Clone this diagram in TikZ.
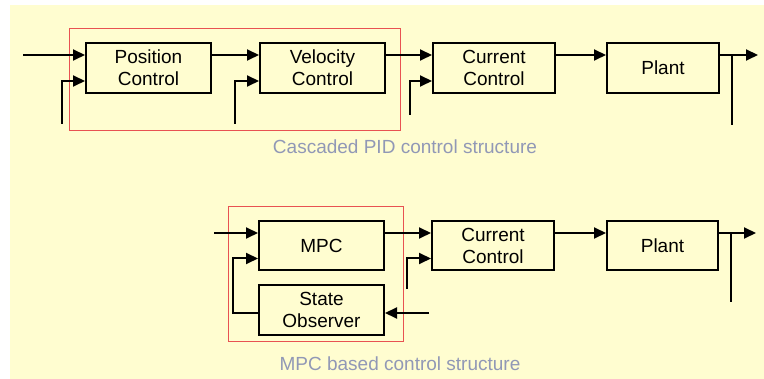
\documentclass[tikz,border=0pt]{standalone}
\usepackage{fontspec}
\setmainfont{Liberation Sans}
\usepackage{xcolor}
\usetikzlibrary{positioning, arrows.meta}
\definecolor{bgyellow}{RGB}{255,253,208}
\definecolor{frame}{RGB}{232,82,82}
\definecolor{caption}{RGB}{145,152,182}

\begin{document}
\begin{tikzpicture}[
    x=1pt, y=-1pt,
    box/.style={
        draw,
        line width=2pt,
        minimum width=125pt,
        minimum height=50pt,
        inner sep=0pt,
        align=center,
        font=\fontsize{19}{22}\selectfont
    },
    arrow/.style={
        -{Triangle[length=12pt, width=11pt]},
        line width=2pt
    },
    wire/.style={
        line width=2pt
    },
    redbox/.style={
        draw=frame,
        line width=1pt
    },
    note/.style={
        text=caption,
        font=\fontsize{19}{22}\selectfont
    }
]

% Background
\useasboundingbox (0,0) rectangle (764,379);
\fill [bgyellow] (10,5) rectangle (764,379);

% Top Row
\node (pos) [box] at (148.5,68) {Position\\Control};
\node (vel) [box, right=47pt of pos] {Velocity\\Control};
\node (cur) [box, minimum width=122pt, right=46pt of vel] {Current\\Control};
\node (plant) [box, minimum width=112pt, right=50pt of cur] {Plant};

\draw [redbox] (69,29) rectangle (400,131);
\node (cap1) [note] at (405,147) {Cascaded PID control structure};

% Top Row Connections
\coordinate (in1) at (23,55);
\draw [arrow] (in1) -- (in1 -| pos.west);
\coordinate (fb1) at (62,124);
\draw [arrow] (fb1) |- ([yshift=-13pt]pos.west);
\draw [arrow] ([yshift=13pt]pos.east) -- ([yshift=13pt]vel.west);
\coordinate (fb2) at (235,124);
\draw [arrow] (fb2) |- ([yshift=-13pt]vel.west);
\draw [arrow] ([yshift=13pt]vel.east) -- ([yshift=13pt]cur.west);
\coordinate (fb3) at (410,115);
\draw [arrow] (fb3) |- ([yshift=-13pt]cur.west);
\draw [arrow] ([yshift=13pt]cur.east) -- ([yshift=13pt]plant.west);
\coordinate (out1) at (758,55);
\draw [arrow] ([yshift=13pt]plant.east) -- (out1);
\coordinate (tap1) at (732,125);
\draw [wire] (tap1) -- (tap1 |- out1);

% Bottom Row
\node (mpc) [box, minimum height=49pt] at (321.5,245.5) {MPC};
\node (obs) [box, below=13pt of mpc] {State\\Observer};
\node (cur2) [box, minimum width=122pt, minimum height=49pt, right=46pt of mpc] {Current\\Control};
\node (plant2) [box, minimum width=111pt, minimum height=49pt, right=51pt of cur2] {Plant};

\draw [redbox] (228,207) rectangle (403,342);
\node (cap2) [note] at (400,364) {MPC based control structure};

% Bottom Row Connections
\coordinate (in2) at (214,233);
\draw [arrow] (in2) -- (in2 -| mpc.west);
\draw [arrow] ([yshift=-3pt]obs.west) -- ++(-25pt,0) |- ([yshift=-13pt]mpc.west);
\coordinate (meas) at (429,313);
\draw [arrow] (meas) -- (meas -| obs.east);
\draw [arrow] ([yshift=12.5pt]mpc.east) -- ([yshift=12.5pt]cur2.west);
\coordinate (fb4) at (407,289);
\draw [arrow] (fb4) |- ([yshift=-13pt]cur2.west);
\draw [arrow] ([yshift=12.5pt]cur2.east) -- ([yshift=12.5pt]plant2.west);
\coordinate (out2) at (756,233);
\draw [arrow] ([yshift=12.5pt]plant2.east) -- (out2);
\coordinate (tap2) at (731,302);
\draw [wire] (tap2) -- (tap2 |- out2);

\end{tikzpicture}
\end{document}
